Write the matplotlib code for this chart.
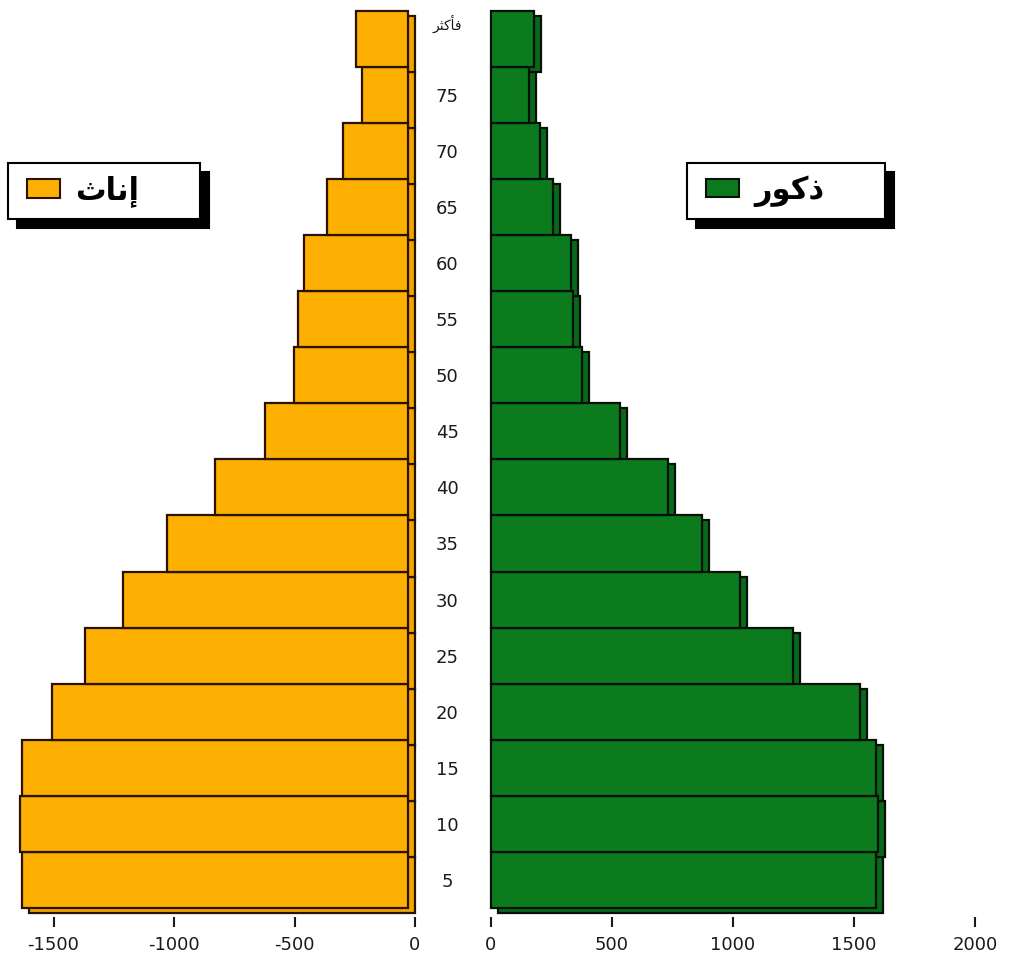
import matplotlib
matplotlib.use('Agg')
import matplotlib.pyplot as plt
import matplotlib.transforms as mtransforms
from matplotlib.patches import Patch, Rectangle
from matplotlib.legend_handler import HandlerPatch

# Arabic words written in presentation forms, visual (left-to-right) order,
# because matplotlib does no Arabic shaping itself
lbl_female = '\uFE99\uFE8E\uFEE7\uFE87'          # إناث
lbl_male = '\uFEAD\uFEEE\uFEDB\uFEAB'            # ذكور
lbl_top = '\uFEAE\uFE9C\uFEDB\uFE84\uFED3'       # فأكثر

ages = ['5', '10', '15', '20', '25', '30', '35', '40', '45', '50', '55', '60', '65', '70', '75', lbl_top]
females = [1602, 1610, 1602, 1477, 1340, 1183, 1000, 801, 593, 473, 456, 432, 336, 270, 191, 216]
males = [1591, 1599, 1591, 1525, 1248, 1029, 872, 731, 533, 376, 339, 331, 256, 202, 157, 178]
left_ticks = [-1500, -1000, -500, 0]
right_ticks = [0, 500, 1000, 1500, 2000]

orange = '#FDB002'
orange_side = '#EFA600'
orange_edge = '#2B1200'
green = '#0B7B1E'
green_side = '#08691A'
green_edge = '#061006'

W, H = 1014, 964
fig = plt.figure(figsize=(W / 100, H / 100), dpi=100)
axL = fig.add_axes([0, 1 - 917 / H, 440 / W, 917 / H])
axR = fig.add_axes([470 / W, 1 - 917 / H, 544 / W, 917 / H])

ypos = list(range(len(ages)))


def shift(ax, dx, dy):
    # pixel offset on top of the data transform (gives the 3d depth)
    return ax.transData + mtransforms.ScaledTranslation(dx / 100, dy / 100, fig.dpi_scale_trans)


# females: back face first, then front face a bit to the left
axL.barh(ypos, [-v for v in females], height=1.0, color=orange_side, edgecolor=orange_edge,
         linewidth=1.6, transform=shift(axL, 0, -5), zorder=1)
axL.barh(ypos, [-v for v in females], height=1.0, color=orange, edgecolor=orange_edge,
         linewidth=1.6, transform=shift(axL, -7, 0), zorder=2)

# males
axR.barh(ypos, males, height=1.0, color=green_side, edgecolor=green_edge,
         linewidth=1.6, transform=shift(axR, 7, -5), zorder=1)
axR.barh(ypos, males, height=1.0, color=green, edgecolor=green_edge,
         linewidth=1.6, transform=axR.transData, zorder=2)

axL.set_xlim(-415 / 0.241, 25 / 0.241)
axR.set_xlim(-21 / 0.242, 523 / 0.242)
for ax in (axL, axR):
    ax.set_ylim(-0.66, 15.69)
    for s in ax.spines.values():
        s.set_visible(False)
    ax.patch.set_alpha(0)
    ax.tick_params(axis='x', direction='out', length=7, width=1.5, pad=7,
                   labelsize=13, colors='#1a1a1a')

axL.set_xticks(left_ticks)
axL.set_xticklabels([str(t) for t in left_ticks])
axR.set_xticks(right_ticks)
axR.set_xticklabels([str(t) for t in right_ticks])

axL.set_yticks([])
axR.set_yticks(ypos[:-1])
axR.set_yticklabels(ages[:-1])
axR.tick_params(axis='y', length=0, pad=16.5, labelsize=13, colors='#1a1a1a')
for t in axR.get_yticklabels():
    t.set_horizontalalignment('center')

axR.annotate(ages[-1], xy=(0, ypos[-1]), xycoords=('axes fraction', 'data'),
             xytext=(-16.5, 11), textcoords='offset points', ha='center', va='center',
             fontsize=10, color='#1a1a1a')


def swatch(legend, orig_handle, xdescent, ydescent, width, height, fontsize):
    # swatch pushed a little right inside its handle box
    return Rectangle((-xdescent + 5, -ydescent), width - 5, height)


# legends with a solid black drop shadow
leg_kw = dict(loc='upper left', bbox_transform=fig.transFigure, mode='expand', borderaxespad=0,
              prop={'size': 22, 'weight': 'bold'}, handlelength=1.3, handleheight=0.55,
              handletextpad=0.5, borderpad=0.4, fancybox=False, edgecolor='black',
              framealpha=1, shadow={'ox': 6.5, 'oy': -6.5, 'color': 'black', 'alpha': 1},
              handler_map={Patch: HandlerPatch(patch_func=swatch)})
legL = axL.legend(handles=[Patch(facecolor=orange, edgecolor=orange_edge, linewidth=1.5,
                                 label=lbl_female)],
                  bbox_to_anchor=(8 / W, 1 - 220 / H, 192 / W, 57 / H), **leg_kw)
legL.get_frame().set_linewidth(1.5)
legR = axR.legend(handles=[Patch(facecolor=green, edgecolor=green_edge, linewidth=1.5,
                                 label=lbl_male)],
                  bbox_to_anchor=(687 / W, 1 - 218 / H, 198 / W, 55 / H), **leg_kw)
legR.get_frame().set_linewidth(1.5)

fig.savefig('out.png', dpi=100, facecolor='white')
